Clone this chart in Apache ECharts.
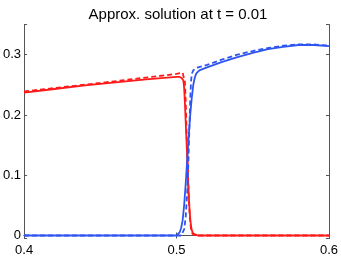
<!DOCTYPE html>
<html><head><meta charset="utf-8">
<script src="https://cdn.jsdelivr.net/npm/echarts@6/dist/echarts.min.js"></script>
<style>html,body{margin:0;padding:0;background:#fff}#c{width:341px;height:259px}</style>
</head><body><div id="c"></div>
<script>
const title = 'Approx. solution at t = 0.01';
const xTicks = [0.4, 0.5, 0.6];
const yTicks = [0, 0.1, 0.2, 0.3];

const redSolidX = [0.4, 0.42, 0.44, 0.46, 0.48, 0.5, 0.502, 0.5035, 0.5045, 0.505, 0.5055, 0.506, 0.5065, 0.507, 0.5075, 0.508, 0.5085, 0.509, 0.5095, 0.51, 0.511, 0.512, 0.514, 0.55, 0.6];
const redSolidY = [0.237, 0.243, 0.249, 0.254, 0.259, 0.263, 0.263, 0.261, 0.257, 0.245, 0.22, 0.19, 0.16, 0.13, 0.10, 0.07, 0.045, 0.028, 0.016, 0.009, 0.003, 0.001, 0, 0, 0];

const blueSolidX = [0.4, 0.5, 0.501, 0.502, 0.503, 0.504, 0.505, 0.506, 0.507, 0.508, 0.509, 0.51, 0.511, 0.512, 0.513, 0.515, 0.52, 0.53, 0.54, 0.55, 0.56, 0.57, 0.58, 0.59, 0.6];
const blueSolidY = [0, 0, 0.002, 0.005, 0.012, 0.025, 0.05, 0.085, 0.125, 0.165, 0.2, 0.228, 0.25, 0.262, 0.269, 0.274, 0.279, 0.288, 0.296, 0.303, 0.309, 0.313, 0.316, 0.316, 0.314];

const redDashX = [0.4, 0.45, 0.5, 0.504, 0.505, 0.5055, 0.506, 0.5065, 0.507, 0.5075, 0.508, 0.5085, 0.509, 0.5095, 0.51, 0.511, 0.513, 0.6];
const redDashY = [0.239, 0.253, 0.268, 0.27, 0.268, 0.255, 0.225, 0.18, 0.14, 0.10, 0.065, 0.04, 0.022, 0.011, 0.005, 0.001, 0, 0];

const blueDashX = [0.4, 0.503, 0.504, 0.505, 0.506, 0.507, 0.5075, 0.508, 0.5085, 0.509, 0.5095, 0.51, 0.511, 0.513, 0.52, 0.53, 0.54, 0.55, 0.56, 0.57, 0.58, 0.59, 0.6];
const blueDashY = [0, 0, 0.003, 0.01, 0.03, 0.07, 0.1, 0.14, 0.185, 0.225, 0.255, 0.268, 0.274, 0.278, 0.283, 0.292, 0.3, 0.306, 0.311, 0.315, 0.317, 0.317, 0.315];

const RED = '#ff1a1a', BLUE = '#2f55f0';
const pairs = (xs, ys) => xs.map((x, i) => [x, ys[i]]);
const isTick = (v, arr) => arr.some(t => Math.abs(t - v) < 1e-9);

const axisCommon = {
  axisLine: {show: true, lineStyle: {color: '#555', width: 1}},
  axisTick: {show: true, inside: true, length: 3, lineStyle: {color: '#555'}},
  splitLine: {show: false}
};
const chart = echarts.init(document.getElementById('c'), null, {renderer: 'canvas'});
chart.setOption({
  animation: false,
  backgroundColor: '#fff',
  title: {text: title, left: 173, top: 2, textAlign: 'center',
    textStyle: {fontFamily: 'Liberation Sans', fontSize: 15, fontWeight: 'normal', color: '#000'}},
  grid: {left: 21, right: 12, top: 24.5, bottom: 20.5},
  xAxis: [
    Object.assign({type: 'value', min: 0.4, max: 0.6, interval: 0.1, position: 'bottom',
      axisLabel: {fontFamily: 'Liberation Sans', fontSize: 13, color: '#000', margin: 5,
        formatter: v => isTick(v, xTicks) ? v.toFixed(1) : ''}}, axisCommon),
    Object.assign({type: 'value', min: 0.4, max: 0.6, interval: 0.1, position: 'top',
      axisLabel: {show: false}}, axisCommon)
  ],
  yAxis: [
    Object.assign({type: 'value', min: -0.005, max: 0.35, position: 'left',
      axisLabel: {fontFamily: 'Liberation Sans', fontSize: 13, color: '#000', margin: 3,
        formatter: v => { const r = Math.round(v * 10) / 10; return (Math.abs(v - r) < 1e-6 && isTick(r, yTicks)) ? (r === 0 ? '0' : r.toFixed(1)) : ''; }}}, axisCommon),
    Object.assign({type: 'value', min: -0.005, max: 0.35, position: 'right',
      axisLabel: {show: false}}, axisCommon)
  ],
  series: [
    {type: 'line', data: pairs(redSolidX, redSolidY), symbol: 'none', lineStyle: {color: RED, width: 1.8}},
    {type: 'line', data: pairs(redDashX, redDashY), symbol: 'none', lineStyle: {color: RED, width: 1.8, type: [5, 3]}},
    {type: 'line', data: pairs(blueSolidX, blueSolidY), symbol: 'none', lineStyle: {color: BLUE, width: 1.8}},
    {type: 'line', data: pairs(blueDashX, blueDashY), symbol: 'none', lineStyle: {color: BLUE, width: 1.8, type: [5, 3]}}
  ]
});
</script></body></html>
